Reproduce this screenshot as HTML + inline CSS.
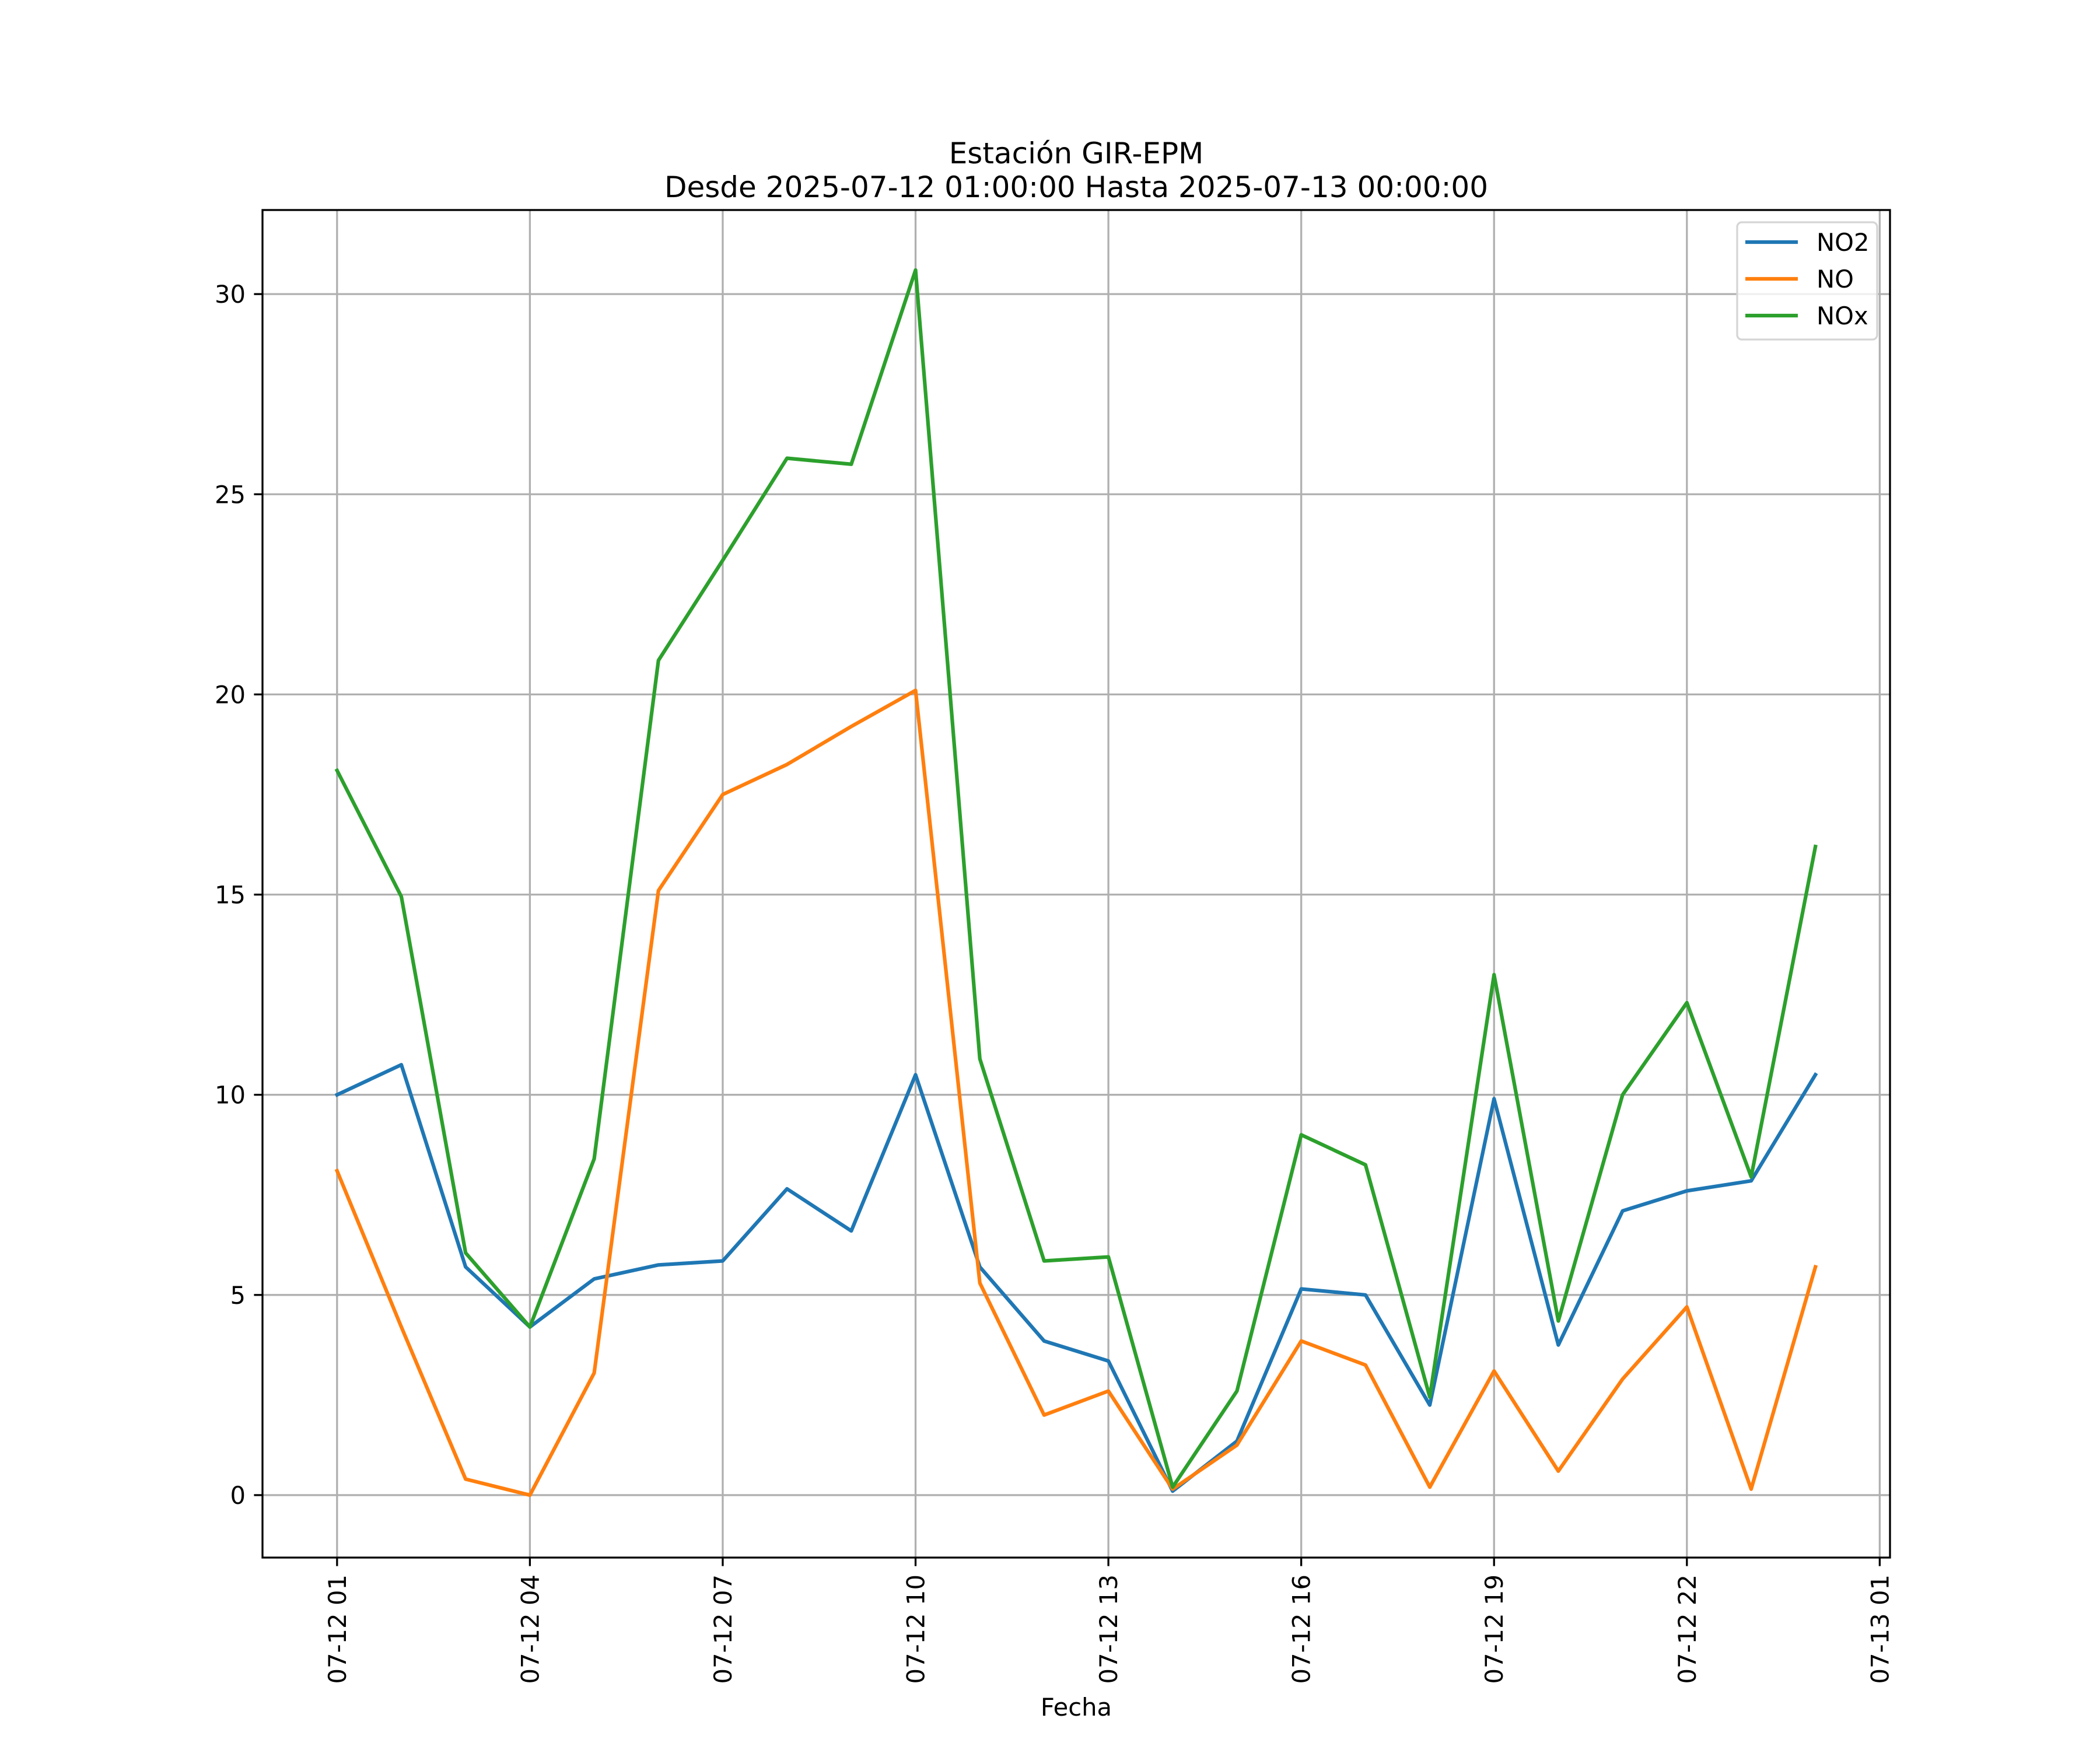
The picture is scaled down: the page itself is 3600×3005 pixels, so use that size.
<!DOCTYPE html>
<html><head><meta charset="utf-8"><style>
html,body{margin:0;padding:0;background:#fff}
svg text{font-family:"DejaVu Sans","Liberation Sans",sans-serif;fill:#000}
</style></head><body>
<svg id="chart" width="3600" height="3000" xmlns="http://www.w3.org/2000/svg">
<rect width="3600" height="3000" fill="#fff"/>
<g id="grid"></g><g id="series"></g><g id="axes"></g>
<text x="1845" y="280" font-size="50" text-anchor="middle">Estación GIR-EPM</text>
<text x="1845" y="338" font-size="50" text-anchor="middle">Desde 2025-07-12 01:00:00 Hasta 2025-07-13 00:00:00</text>
<text x="1845" y="2941" font-size="41.7" text-anchor="middle">Fecha</text>
<g id="legend"></g>
</svg>
<script>
const hours = [1,2,3,4,5,6,7,8,9,10,11,12,13,14,15,16,17,18,19,20,21,22,23,24];
const no2 = [10,10.75,5.7,4.2,5.4,5.75,5.85,7.65,6.6,10.5,5.7,3.85,3.35,0.1,1.35,5.15,5.0,2.25,9.9,3.75,7.1,7.6,7.85,10.5];
const no = [8.1,4.2,0.4,0.0,3.05,15.1,17.5,18.25,19.2,20.1,5.3,2.0,2.6,0.15,1.25,3.85,3.25,0.2,3.1,0.6,2.9,4.7,0.15,5.7];
const nox = [18.1,14.95,6.05,4.2,8.4,20.85,23.35,25.9,25.75,30.6,10.9,5.85,5.95,0.2,2.6,9.0,8.25,2.45,13.0,4.35,10.0,12.3,7.95,16.2];
const yTicks = [0,5,10,15,20,25,30];
const xTickHours = [1,4,7,10,13,16,19,22,25];
const xTickLabels = ["07-12 01","07-12 04","07-12 07","07-12 10","07-12 13","07-12 16","07-12 19","07-12 22","07-13 01"];
const seriesNames = ["NO2","NO","NOx"];
const seriesColors = ["#1f77b4","#ff7f0e","#2ca02c"];

const L=450,R=3240,T=360,B=2670;
const xMin=-0.16,xMax=25.16,yMin=-1.56,yMax=32.1;
const X=h=>L+(h-xMin)/(xMax-xMin)*(R-L);
const Y=v=>B-(v-yMin)/(yMax-yMin)*(B-T);
const NS="http://www.w3.org/2000/svg";
function mk(tag,attrs,parent){const e=document.createElementNS(NS,tag);for(const k in attrs)e.setAttribute(k,attrs[k]);parent.appendChild(e);return e;}
const grid=document.getElementById('grid'),axes=document.getElementById('axes'),ser=document.getElementById('series'),leg=document.getElementById('legend');
yTicks.forEach(v=>{
  const g=mk('line',{x1:L,x2:R,y1:Y(v),y2:Y(v),stroke:'#b0b0b0','stroke-width':3.3},grid);
  
  
  const t=mk('line',{x1:L-14.6,x2:L,y1:Y(v),y2:Y(v),stroke:'#000','stroke-width':3.3},axes);
  
  
  const tx=mk('text',{x:L-29,y:Y(v)+15,'font-size':41.7,'text-anchor':'end'},axes);
  tx.textContent=v;
  
  
});
xTickHours.forEach((h,i)=>{
  const g=mk('line',{x1:X(h),x2:X(h),y1:T,y2:B,stroke:'#b0b0b0','stroke-width':3.3},grid);
  
  
  const t=mk('line',{x1:X(h),x2:X(h),y1:B,y2:B+14.6,stroke:'#000','stroke-width':3.3},axes);
  
  
  const tx=mk('text',{x:0,y:0,'font-size':41.7,'text-anchor':'end',transform:`translate(${X(h)+15},${B+29}) rotate(-90)`},axes);
  tx.textContent=xTickLabels[i];
  
  
});
const frame=mk('rect',{x:L,y:T,width:R-L,height:B-T,fill:'none',stroke:'#000','stroke-width':3.3},axes);


[no2,no,nox].forEach((arr,si)=>{
  const p=mk('polyline',{points:arr.map((v,i)=>X(hours[i])+','+Y(v)).join(' '),fill:'none',stroke:seriesColors[si],'stroke-width':6.25,'stroke-linejoin':'round','stroke-linecap':'square'},ser);
  
  
});
const lb=mk('rect',{x:2978,y:381,width:240,height:201,rx:8,fill:'#fff','fill-opacity':0.8,stroke:'#d5d5d5','stroke-width':3.3},leg);


seriesNames.forEach((n,i)=>{
  const y=415+i*63;
  const l=mk('line',{x1:2992,x2:3082,y1:y,y2:y,stroke:seriesColors[i],'stroke-width':6.25},leg);
  
  
  const t=mk('text',{x:3114,y:y+15,'font-size':41.7},leg);
  t.textContent=n;
  
  
});
</script>
</body></html>
